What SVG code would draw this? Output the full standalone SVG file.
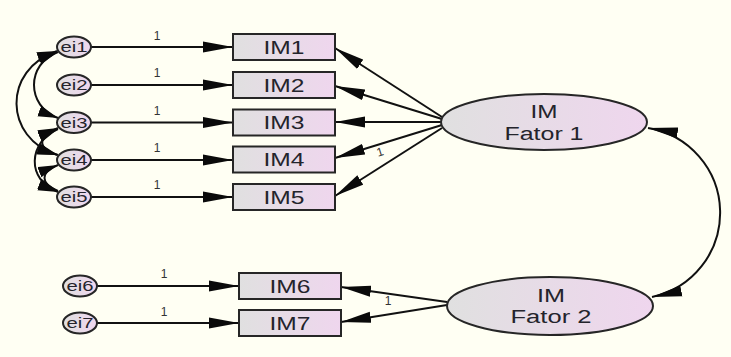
<svg xmlns="http://www.w3.org/2000/svg" width="731" height="357" viewBox="0 0 731 357">
  <defs>
    <linearGradient id="nodeFill" x1="0" y1="0" x2="1" y2="0">
      <stop offset="0" stop-color="#e0e0e0"/>
      <stop offset="1" stop-color="#efd6ee"/>
    </linearGradient>
    <marker id="head" viewBox="0 0 30 12" refX="30" refY="6" markerWidth="30" markerHeight="12" markerUnits="userSpaceOnUse" orient="auto-start-reverse">
      <path d="M0,0.5 L30,6 L0,11.5 Z" fill="#0a0a0a"/>
    </marker>
    <marker id="headSmall" viewBox="0 0 20 12" refX="20" refY="6" markerWidth="20" markerHeight="12" markerUnits="userSpaceOnUse" orient="auto-start-reverse">
      <path d="M0,0.5 L20,6 L0,11.5 Z" fill="#0a0a0a"/>
    </marker>
    <style>
      .node { fill: url(#nodeFill); stroke: #262626; stroke-width: 2; }
      .lbl { font-family: "Liberation Sans", Arial, sans-serif; fill: #24242c; text-anchor: middle; }
      .err { font-size: 14px; }
      .obs { font-size: 18px; }
      .lat { font-size: 18px; }
      .w { font-family: "Liberation Sans", Arial, sans-serif; font-size: 12px; fill: #333; text-anchor: middle; }
      .edge { fill: none; stroke: #111; stroke-width: 2; }
    </style>
  </defs>

  <rect width="731" height="357" fill="#fffff3"/>

  <!-- connectors -->
  <g id="connectors">
    <!-- error terms to indicators -->
    <line class="edge" x1="91" y1="47" x2="233" y2="47" marker-end="url(#head)"/>
    <line class="edge" x1="91" y1="85" x2="233" y2="85" marker-end="url(#head)"/>
    <line class="edge" x1="91" y1="122.5" x2="233" y2="122.5" marker-end="url(#head)"/>
    <line class="edge" x1="91" y1="160" x2="233" y2="160" marker-end="url(#head)"/>
    <line class="edge" x1="91" y1="197" x2="233" y2="197" marker-end="url(#head)"/>
    <line class="edge" x1="97" y1="286" x2="239" y2="286" marker-end="url(#head)"/>
    <line class="edge" x1="97" y1="323" x2="239" y2="323" marker-end="url(#head)"/>

    <!-- factor loadings -->
    <line class="edge" x1="442" y1="117" x2="335" y2="48" marker-end="url(#head)"/>
    <line class="edge" x1="442" y1="119" x2="335" y2="86" marker-end="url(#head)"/>
    <line class="edge" x1="442" y1="122" x2="335" y2="122" marker-end="url(#head)"/>
    <line class="edge" x1="442" y1="125" x2="335" y2="158" marker-end="url(#head)"/>
    <line class="edge" x1="442" y1="128" x2="335" y2="196" marker-end="url(#head)"/>
    <line class="edge" x1="447" y1="302" x2="341" y2="287" marker-end="url(#head)"/>
    <line class="edge" x1="447" y1="305" x2="341" y2="322" marker-end="url(#head)"/>

    <!-- factor covariance -->
    <path class="edge" d="M648,128 A86,86 0 0 1 652,297" marker-start="url(#head)" marker-end="url(#head)"/>

    <!-- error covariances -->
    <path class="edge" d="M58,52 C26,64 26,106 58,118" marker-start="url(#headSmall)" marker-end="url(#headSmall)"/>
    <path class="edge" d="M57,51 C2,70 4,138 57,155" marker-start="url(#headSmall)" marker-end="url(#headSmall)"/>
    <path class="edge" d="M58,128 C38,136 36,148 58,155" marker-start="url(#headSmall)" marker-end="url(#headSmall)"/>
    <path class="edge" d="M58,129 C28,142 26,180 58,192" marker-start="url(#headSmall)" marker-end="url(#headSmall)"/>
    <path class="edge" d="M58,165 C40,172 40,184 58,191" marker-start="url(#headSmall)" marker-end="url(#headSmall)"/>
  </g>

  <!-- path coefficient labels -->
  <g id="weights">
    <text class="w" x="157" y="40">1</text>
    <text class="w" x="157" y="77">1</text>
    <text class="w" x="157" y="115">1</text>
    <text class="w" x="157" y="152">1</text>
    <text class="w" x="157" y="189">1</text>
    <text class="w" x="164" y="278">1</text>
    <text class="w" x="164" y="316">1</text>
    <text class="w" x="380" y="156" transform="rotate(-17 380 152)">1</text>
    <text class="w" x="388" y="305">1</text>
  </g>

  <!-- error terms -->
  <g id="ei1"><ellipse class="node" cx="74" cy="47" rx="17" ry="10.5"/><text class="lbl err" x="74" y="52" textLength="27" lengthAdjust="spacingAndGlyphs">ei1</text></g>
  <g id="ei2"><ellipse class="node" cx="74" cy="85" rx="17" ry="10.5"/><text class="lbl err" x="74" y="90" textLength="27" lengthAdjust="spacingAndGlyphs">ei2</text></g>
  <g id="ei3"><ellipse class="node" cx="74" cy="122.5" rx="17" ry="10.5"/><text class="lbl err" x="74" y="127.5" textLength="27" lengthAdjust="spacingAndGlyphs">ei3</text></g>
  <g id="ei4"><ellipse class="node" cx="74" cy="160" rx="17" ry="10.5"/><text class="lbl err" x="74" y="165" textLength="27" lengthAdjust="spacingAndGlyphs">ei4</text></g>
  <g id="ei5"><ellipse class="node" cx="74" cy="197" rx="17" ry="10.5"/><text class="lbl err" x="74" y="202" textLength="27" lengthAdjust="spacingAndGlyphs">ei5</text></g>
  <g id="ei6"><ellipse class="node" cx="80" cy="286" rx="17" ry="10.5"/><text class="lbl err" x="80" y="291" textLength="27" lengthAdjust="spacingAndGlyphs">ei6</text></g>
  <g id="ei7"><ellipse class="node" cx="80" cy="323" rx="17" ry="10.5"/><text class="lbl err" x="80" y="328" textLength="27" lengthAdjust="spacingAndGlyphs">ei7</text></g>

  <!-- observed indicators -->
  <g id="IM1"><rect class="node" x="233" y="34" width="102" height="26"/><text class="lbl obs" x="284" y="53.5" textLength="41" lengthAdjust="spacingAndGlyphs">IM1</text></g>
  <g id="IM2"><rect class="node" x="233" y="72" width="102" height="26"/><text class="lbl obs" x="284" y="91.5" textLength="41" lengthAdjust="spacingAndGlyphs">IM2</text></g>
  <g id="IM3"><rect class="node" x="233" y="109.5" width="102" height="26"/><text class="lbl obs" x="284" y="129" textLength="41" lengthAdjust="spacingAndGlyphs">IM3</text></g>
  <g id="IM4"><rect class="node" x="233" y="146.5" width="102" height="26"/><text class="lbl obs" x="284" y="166" textLength="41" lengthAdjust="spacingAndGlyphs">IM4</text></g>
  <g id="IM5"><rect class="node" x="233" y="184" width="102" height="26"/><text class="lbl obs" x="284" y="203.5" textLength="41" lengthAdjust="spacingAndGlyphs">IM5</text></g>
  <g id="IM6"><rect class="node" x="239" y="273" width="102" height="26"/><text class="lbl obs" x="290" y="292.5" textLength="41" lengthAdjust="spacingAndGlyphs">IM6</text></g>
  <g id="IM7"><rect class="node" x="239" y="310" width="102" height="26"/><text class="lbl obs" x="290" y="329.5" textLength="41" lengthAdjust="spacingAndGlyphs">IM7</text></g>

  <!-- latent factors -->
  <g id="fator1">
    <ellipse class="node" cx="544" cy="122" rx="103" ry="28"/>
    <text class="lbl lat" x="544" y="118" textLength="27" lengthAdjust="spacingAndGlyphs">IM</text>
    <text class="lbl lat" x="544" y="140" textLength="79" lengthAdjust="spacingAndGlyphs">Fator 1</text>
  </g>
  <g id="fator2">
    <ellipse class="node" cx="550" cy="306" rx="103" ry="29"/>
    <text class="lbl lat" x="551" y="302" textLength="28" lengthAdjust="spacingAndGlyphs">IM</text>
    <text class="lbl lat" x="551" y="323" textLength="81" lengthAdjust="spacingAndGlyphs">Fator 2</text>
  </g>
</svg>
